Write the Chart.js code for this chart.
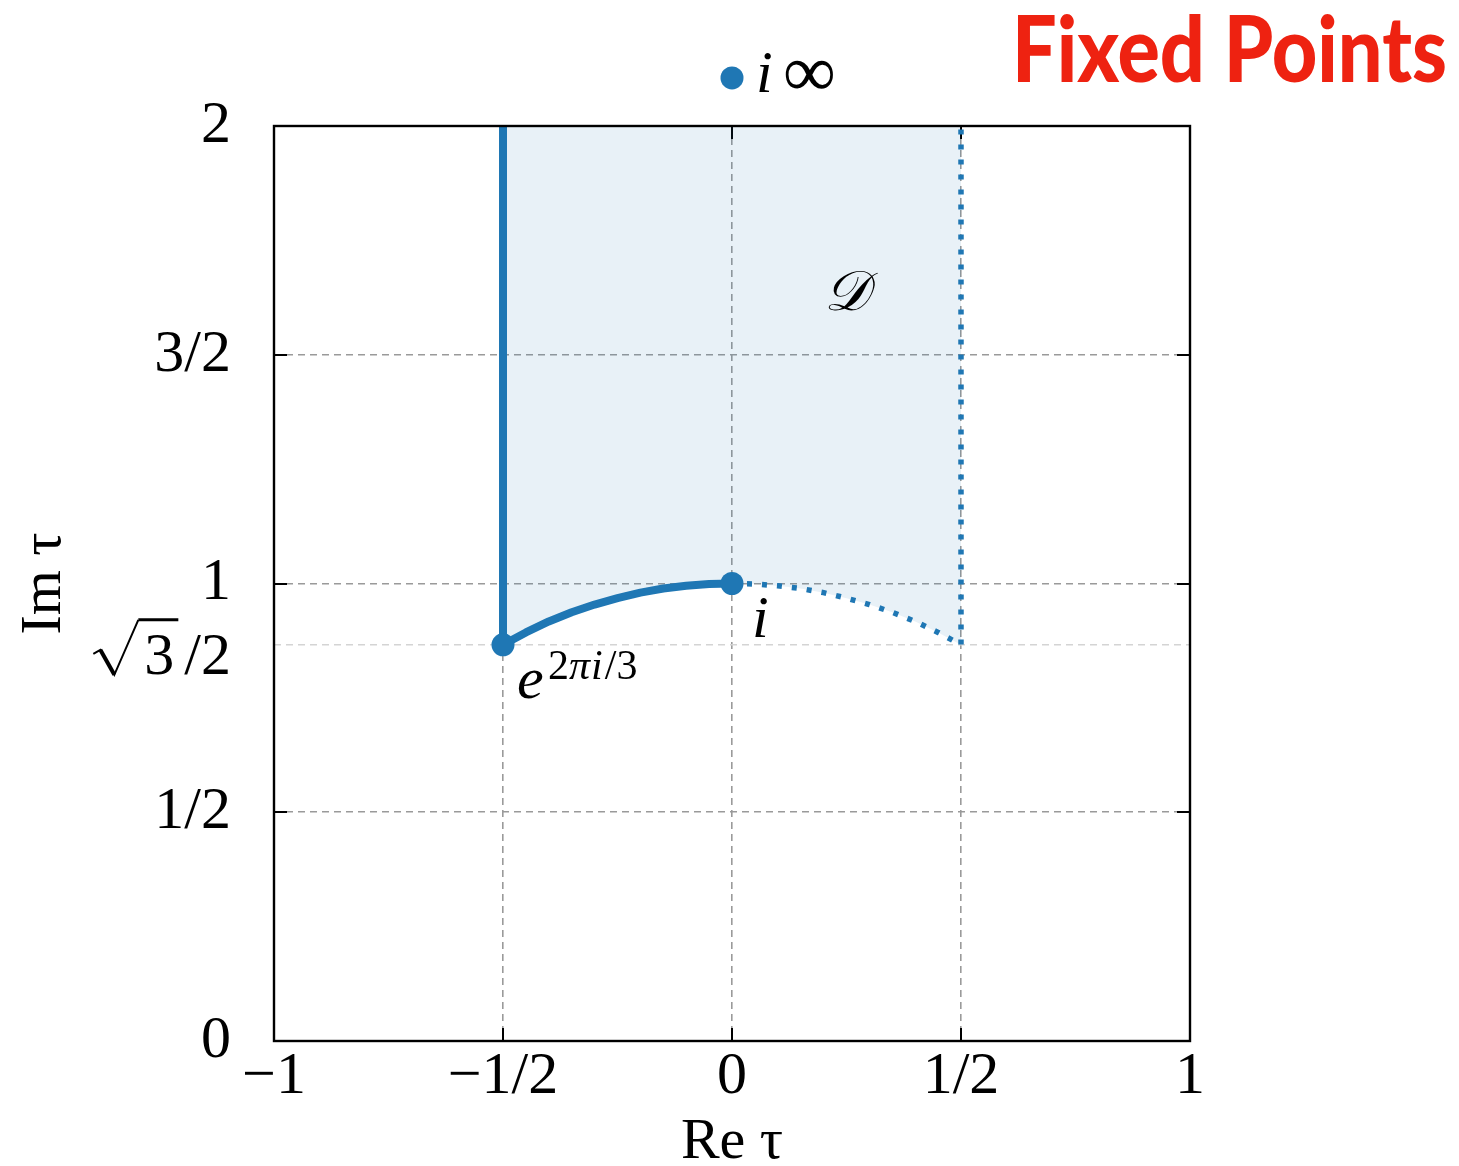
<!DOCTYPE html>
<html><head><meta charset="utf-8">
<script src="https://cdn.jsdelivr.net/npm/chart.js@4.4.0/dist/chart.umd.min.js"></script>
<style>html,body{margin:0;padding:0;background:#fff}</style>
</head><body>
<canvas id="c" width="1459" height="1166" style="display:block;width:1459px;height:1166px"></canvas>
<script>
// ---- data ----
const xTickValues = [-1, -0.5, 0, 0.5, 1];
const xTickLabels = ['\u22121', '\u22121/2', '0', '1/2', '1'];
const yTickValues = [0, 0.5, 0.866, 1, 1.5, 2];
const yTickLabels = ['0', '1/2', '\u221A3/2', '1', '3/2', '2'];
const innerTickX = [-0.5, 0, 0.5];
const innerTickY = [0.5, 1, 1.5];

// boundary arc |tau| = 1, left half (solid) and right half (dotted)
const arcLeftX  = [-0.5, -0.45, -0.4, -0.35, -0.3, -0.25, -0.2, -0.15, -0.1, -0.05, 0];
const arcLeftY  = [0.866, 0.893, 0.917, 0.937, 0.954, 0.968, 0.980, 0.989, 0.995, 0.999, 1];
const arcRightX = [0, 0.05, 0.1, 0.15, 0.2, 0.25, 0.3, 0.35, 0.4, 0.45, 0.5];
const arcRightY = [1, 0.999, 0.995, 0.989, 0.980, 0.968, 0.954, 0.937, 0.917, 0.893, 0.866];
const stripTop = 2;            // top of the drawn strip
const fixedX = [-0.5, 0];      // e^{2πi/3}, i
const fixedY = [0.866, 1];
const infX = [0];              // i∞ marker (drawn above the frame)
const infY = [2.105];
const regionLabelPos = [0.25, 1.64];

// ---- build library structures ----
const pts = (xs, ys) => xs.map((x, i) => ({x, y: ys[i]}));
const fillData  = pts(arcLeftX, arcLeftY).concat(pts(arcRightX, arcRightY).slice(1));
const solidData = [{x: arcLeftX[0], y: stripTop}].concat(pts(arcLeftX, arcLeftY));
const dottedData = pts(arcRightX, arcRightY).concat([{x: arcRightX[arcRightX.length - 1], y: stripTop}]);

const BLUE = '#1f77b4';
const SERIF = '"Liberation Serif", "DejaVu Serif", serif';
const SQRT_IDX = 2;

const framePlugin = {
  id: 'frame',
  beforeDatasetsDraw(chart) {
    const {ctx, chartArea: a, scales: {x, y}} = chart;
    ctx.save();
    ctx.strokeStyle = '#000';
    ctx.lineWidth = 2;
    ctx.setLineDash([]);
    const L = 13;
    ctx.beginPath();
    innerTickX.forEach(v => {
      const px = Math.round(x.getPixelForValue(v));
      ctx.moveTo(px, a.bottom); ctx.lineTo(px, a.bottom - L);
      ctx.moveTo(px, a.top); ctx.lineTo(px, a.top + L);
    });
    innerTickY.forEach(v => {
      const py = Math.round(y.getPixelForValue(v));
      ctx.moveTo(a.left, py); ctx.lineTo(a.left + L, py);
      ctx.moveTo(a.right, py); ctx.lineTo(a.right - L, py);
    });
    ctx.stroke();
    ctx.restore();
  },
  afterDatasetsDraw(chart) {
    const {ctx, chartArea: a} = chart;
    ctx.save();
    ctx.strokeStyle = '#000';
    ctx.lineWidth = 2.4;
    ctx.setLineDash([]);
    ctx.strokeRect(a.left, a.top, a.right - a.left, a.bottom - a.top);
    ctx.restore();
    // i∞ marker lives outside the plotting range: draw its element without clipping
    const meta = chart.getDatasetMeta(4);
    meta.data.forEach(p => p.draw(ctx, {left: 0, top: 0, right: chart.width, bottom: chart.height}));
  },
  afterDraw(chart) {
    const {ctx, scales: {x, y}} = chart;
    ctx.save();
    ctx.fillStyle = '#000';
    ctx.textBaseline = 'alphabetic';
    ctx.textAlign = 'left';
    // √3/2 tick label (radical with vinculum)
    const ry = y.getPixelForValue(yTickValues[SQRT_IDX]);
    const lab = yTickLabels[SQRT_IDX];          // '√3/2'
    const base = ry + 29;
    ctx.font = '60px ' + SERIF;
    const wSlash2 = ctx.measureText(lab.slice(2)).width;
    const w3 = ctx.measureText(lab.slice(1, 2)).width;
    const xEnd = 231;
    const x2 = xEnd - wSlash2;
    const x3 = x2 - w3 - 10;
    ctx.fillText(lab.slice(2), x2, base);
    ctx.fillText(lab.slice(1, 2), x3, base);
    ctx.strokeStyle = '#000';
    ctx.lineWidth = 3;
    ctx.beginPath();
    ctx.moveTo(x3 + w3 + 4, ry - 25);
    ctx.lineTo(x3 - 6, ry - 25);
    ctx.stroke();
    ctx.lineWidth = 2;
    ctx.beginPath();
    ctx.moveTo(x3 - 6, ry - 25);
    ctx.lineTo(x3 - 30, ry + 30);
    ctx.lineTo(x3 - 44, ry + 5);
    ctx.lineTo(x3 - 51, ry + 9);
    ctx.stroke();
    ctx.lineWidth = 4;
    ctx.beginPath();
    ctx.moveTo(x3 - 44, ry + 5);
    ctx.lineTo(x3 - 30, ry + 30);
    ctx.stroke();

    // e^{2πi/3}
    const ax = x.getPixelForValue(fixedX[0]), ay = y.getPixelForValue(fixedY[0]);
    ctx.font = 'italic 60px ' + SERIF;
    ctx.fillText('e', ax + 14, ay + 53);
    let sx = ax + 45;
    const sy = ay + 34;
    ctx.font = '42px ' + SERIF; ctx.fillText('2', sx, sy); sx += ctx.measureText('2').width;
    ctx.font = 'italic 42px ' + SERIF; ctx.fillText('\u03C0', sx, sy); sx += ctx.measureText('\u03C0').width + 1;
    ctx.fillText('i', sx, sy); sx += ctx.measureText('i').width + 2;
    ctx.font = '42px ' + SERIF; ctx.fillText('/3', sx, sy);
    // i
    const bx = x.getPixelForValue(fixedX[1]), by = y.getPixelForValue(fixedY[1]);
    ctx.font = 'italic 60px ' + SERIF;
    ctx.fillText('i', bx + 20, by + 53);
    // i∞
    const cx = x.getPixelForValue(infX[0]), cy = y.getPixelForValue(infY[0]);
    ctx.fillText('i', cx + 24, cy + 14);
    ctx.font = '74px ' + SERIF;
    ctx.fillText('\u221E', cx + 51, cy + 18);
    // region label D
    ctx.font = 'italic 56px ' + SERIF;
    ctx.textAlign = 'center';
    ctx.fillText('\uD835\uDC9F', x.getPixelForValue(regionLabelPos[0]), y.getPixelForValue(regionLabelPos[1]) + 19);
    // Fixed Points
    ctx.font = '900 92px Lato, "DejaVu Sans", sans-serif';
    ctx.textAlign = 'left';
    ctx.fillStyle = '#ee2211';
    const t = 'Fixed Points';
    const w = ctx.measureText(t).width;
    ctx.translate(1012, 82);
    ctx.scale(435 / w, 1);
    ctx.fillText(t, 0, 0);
    ctx.restore();
  }
};

const gridGray = '#9a9a9a';

new Chart(document.getElementById('c'), {
  type: 'scatter',
  data: {
    datasets: [
      { data: fillData, showLine: true, borderWidth: 0, borderColor: 'rgba(0,0,0,0)',
        backgroundColor: 'rgba(31,119,180,0.1)', fill: 'end', pointRadius: 0, order: 5 },
      { data: solidData, showLine: true, borderColor: BLUE, borderWidth: 8, pointRadius: 0,
        borderCapStyle: 'butt', borderJoinStyle: 'round', fill: false, order: 3 },
      { data: dottedData, showLine: true, borderColor: BLUE, borderWidth: 5.5, borderDash: [5, 10],
        pointRadius: 0, fill: false, order: 4 },
      { data: pts(fixedX, fixedY), showLine: false, pointRadius: 11.5, pointBackgroundColor: BLUE,
        pointBorderWidth: 0, order: 1 },
      { data: pts(infX, infY), showLine: false, pointRadius: 11.5, pointBackgroundColor: BLUE,
        pointBorderWidth: 0, clip: false, order: 0 }
    ]
  },
  options: {
    responsive: false,
    animation: false,
    devicePixelRatio: 1,
    layout: { padding: { top: 126, right: 269, left: 0, bottom: 0 } },
    plugins: { legend: { display: false }, tooltip: { enabled: false } },
    scales: {
      x: {
        type: 'linear', min: -1, max: 1,
        afterBuildTicks: s => { s.ticks = xTickValues.map(v => ({value: v})); },
        afterFit: s => { s.height = 125; },
        ticks: { callback: (v, i) => xTickLabels[i], font: { family: SERIF, size: 60 }, color: '#000',
                 padding: 0, maxRotation: 0, autoSkip: false },
        grid: { color: c => (c.tick && (c.tick.value === -1 || c.tick.value === 1)) ? 'rgba(0,0,0,0)' : gridGray,
                lineWidth: 1.6, drawTicks: false },
        border: { display: false, dash: [7, 5] },
        title: { display: true, text: 'Re \u03C4', font: { family: SERIF, size: 58 }, color: '#000',
                 padding: { top: 0, bottom: -12 } }
      },
      y: {
        type: 'linear', min: 0, max: 2,
        afterBuildTicks: s => { s.ticks = yTickValues.map(v => ({value: v})); },
        afterFit: s => { s.width = 274; },
        ticks: { callback: (v, i) => (i === SQRT_IDX ? '' : yTickLabels[i]), font: { family: SERIF, size: 60 }, color: '#000',
                 padding: 43, autoSkip: false },
        grid: { color: c => {
                  if (!c.tick) return gridGray;
                  const v = c.tick.value;
                  if (v === 0 || v === 2) return 'rgba(0,0,0,0)';
                  if (v === 0.866) return '#d4d4d4';
                  return gridGray;
                }, lineWidth: 1.6, drawTicks: false },
        border: { display: false, dash: [7, 5] },
        title: { display: true, text: 'Im \u03C4', font: { family: SERIF, size: 58 }, color: '#000',
                 padding: { top: 10, bottom: 0 } }
      }
    }
  },
  plugins: [framePlugin]
});
</script>
</body></html>
